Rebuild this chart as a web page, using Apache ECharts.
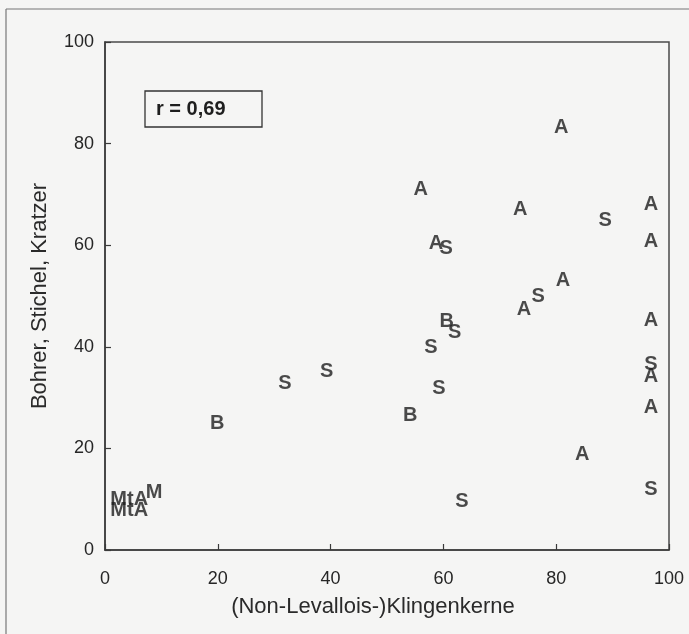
<!DOCTYPE html>
<html>
<head>
<meta charset="utf-8">
<script src="https://cdn.jsdelivr.net/npm/echarts@6/dist/echarts.min.js"></script>
<style>
html,body{margin:0;padding:0;background:#f5f5f4;}
#chart{width:689px;height:634px;}
</style>
</head>
<body>
<div id="chart"></div>
<script>
// Point labels (letters drawn as markers)
const labels = ['A','A','A','S','A','A','A','S','A','S','A','B','S','S','A','S','A','A','S','B','S','S','B','A','S','S','MtA','MtA','M'];
// x values: (Non-Levallois-)Klingenkerne
const xVals = [80.9,56.0,73.6,88.7,96.8,96.8,58.7,60.5,81.2,76.8,74.3,60.6,62.0,57.8,96.8,96.8,96.8,96.8,59.2,54.1,31.9,39.3,19.9,84.6,96.8,63.3,4.3,4.3,8.7];
// y values: Bohrer, Stichel, Kratzer
const yVals = [83.1,70.9,67.1,64.8,68.1,60.8,60.4,59.4,53.1,50.0,47.4,44.9,42.9,39.8,45.1,36.6,34.1,28.0,31.7,26.4,32.7,35.2,25.0,18.9,12.0,9.6,10.0,7.7,11.4];
const xTicks = [0,20,40,60,80,100];
const yTicks = [0,20,40,60,80,100];
const rText = 'r = 0,69';
const xName = '(Non-Levallois-)Klingenkerne';
const yName = 'Bohrer, Stichel, Kratzer';

const pts = labels.map((l,i)=>[xVals[i], yVals[i], l]);
const font = '"Liberation Sans", Arial, sans-serif';

const chart = echarts.init(document.getElementById('chart'));
chart.setOption({
  backgroundColor: '#f5f5f4',
  animation: false,
  grid: {left:105, right:20, top:42, bottom:84, show:true, borderColor:'#4a4a4a', borderWidth:1.5, backgroundColor:'transparent'},
  xAxis: {
    type:'value', min:xTicks[0], max:xTicks[xTicks.length-1], interval:20,
    name: xName, nameLocation:'middle', nameGap:46,
    nameTextStyle:{fontFamily:font, fontSize:22, color:'#2a2a2a', padding:[0,28,0,0]},
    axisLine:{show:true, lineStyle:{color:'#3a3a3a', width:1.5}},
    axisTick:{show:true, inside:true, length:6, lineStyle:{color:'#3a3a3a', width:1.2}},
    axisLabel:{fontFamily:font, fontSize:18, color:'#262626', margin:20},
    splitLine:{show:false}
  },
  yAxis: {
    type:'value', min:yTicks[0], max:yTicks[yTicks.length-1], interval:20,
    name: yName, nameLocation:'middle', nameGap:54, nameRotate:90,
    nameTextStyle:{fontFamily:font, fontSize:22, color:'#2a2a2a'},
    axisLine:{show:true, lineStyle:{color:'#3a3a3a', width:1.5}},
    axisTick:{show:true, inside:true, length:6, lineStyle:{color:'#3a3a3a', width:1.2}},
    axisLabel:{fontFamily:font, fontSize:18, color:'#262626', margin:11},
    splitLine:{show:false}
  },
  series: [{
    type:'scatter',
    data: pts,
    symbolSize: 1,
    itemStyle:{color:'rgba(0,0,0,0)'},
    label:{
      show:true, position:'inside',
      formatter: p => p.value[2],
      fontFamily: font, fontWeight:'bold', fontSize:20, color:'#1e1e1e',
      textBorderWidth:0, textBorderColor:'transparent'
    },
    emphasis:{disabled:true}
  }],
  graphic: [
    {type:'line', shape:{x1:6, y1:9, x2:689, y2:9}, style:{stroke:'#777', lineWidth:1.2}},
    {type:'line', shape:{x1:6, y1:9, x2:6, y2:634}, style:{stroke:'#777', lineWidth:1.2}},
    {type:'rect', shape:{x:145, y:91, width:117, height:36}, style:{fill:'none', stroke:'#333', lineWidth:1.3}},
    {type:'text', x:156, y:109, style:{text:rText, font:'bold 20px "Liberation Sans", Arial, sans-serif', fill:'#1e1e1e', textVerticalAlign:'middle', verticalAlign:'middle'}}
  ]
});
</script>
</body>
</html>
